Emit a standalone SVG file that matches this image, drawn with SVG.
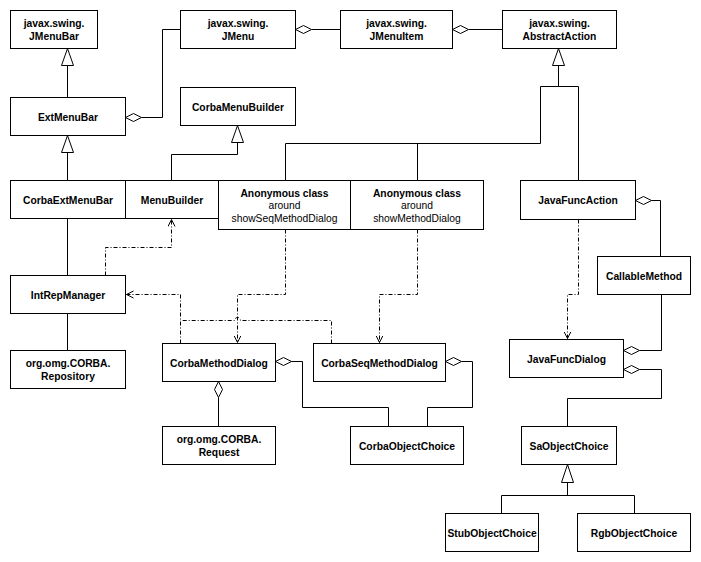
<svg xmlns="http://www.w3.org/2000/svg" width="701" height="562" viewBox="0 0 701 562">
<defs>
<style>
.box{fill:#fff;stroke:#000;stroke-width:1}
.t{font-family:"Liberation Sans",Arial,sans-serif;font-size:10.3px;font-weight:bold;text-anchor:middle;fill:#000}
.r{font-weight:normal}
.ln{fill:none;stroke:#000;stroke-width:1}
.dash{fill:none;stroke:#000;stroke-width:1;stroke-dasharray:4,2,1,2}
.tri{fill:#fff;stroke:#000;stroke-width:1}
.dia{fill:#fff;stroke:#000;stroke-width:1}
</style>
<marker id="open" markerWidth="10" markerHeight="10" refX="7" refY="4" orient="auto" markerUnits="userSpaceOnUse">
<path d="M0,0.5 L7,4 L0,7.5" fill="none" stroke="#000" stroke-width="1"/>
</marker>
</defs>
<rect width="701" height="562" fill="#fff"/>
<g transform="translate(0.5,0.5)">
<g id="connectors">
<!-- generalizations -->
<path class="ln" d="M67,97 V65"/>
<path class="tri" d="M67,48 L73,65 L61,65 Z"/>
<path class="ln" d="M67,180 V152"/>
<path class="tri" d="M67,135 L73,152 L61,152 Z"/>
<path class="ln" d="M558,65 V86 M540,86 H578 M540,86 V143 M578,86 V180 M285,143 H540 M285,143 V180 M417,143 V180"/>
<path class="tri" d="M558,48 L564,65 L552,65 Z"/>
<path class="ln" d="M171,180 V154 H237 V142"/>
<path class="tri" d="M237,125 L243,142 L231,142 Z"/>
<path class="ln" d="M567,482 V495 M501,495 H634 M501,495 V513 M634,495 V513"/>
<path class="tri" d="M567,464 L573,482 L561,482 Z"/>
<!-- aggregations -->
<path class="ln" d="M141,117 H162 V29 H180"/>
<path class="dia" d="M125,117 L133,113 L141,117 L133,121 Z"/>
<path class="ln" d="M311,29 H340"/>
<path class="dia" d="M295,29 L303,25 L311,29 L303,33 Z"/>
<path class="ln" d="M468,29 H502"/>
<path class="dia" d="M452,29 L460,25 L468,29 L460,33 Z"/>
<path class="ln" d="M218,397 V426"/>
<path class="dia" d="M218,381 L222,389 L218,397 L214,389 Z"/>
<path class="ln" d="M291,361 H302 V407 H388 V426"/>
<path class="dia" d="M275,361 L283,357 L291,361 L283,365 Z"/>
<path class="ln" d="M461,361 H472 V407 H427 V426"/>
<path class="dia" d="M445,361 L453,357 L461,361 L453,365 Z"/>
<path class="ln" d="M651,200 H660 V256"/>
<path class="dia" d="M635,200 L643,196 L651,200 L643,204 Z"/>
<path class="ln" d="M639,350 H661 V294"/>
<path class="dia" d="M623,350 L631,346 L639,350 L631,354 Z"/>
<path class="ln" d="M639,369 H661 V398 H567 V426"/>
<path class="dia" d="M623,369 L631,365 L639,369 L631,373 Z"/>
<!-- solid associations -->
<path class="ln" d="M67,218 V275"/>
<path class="ln" d="M67,313 V350"/>
<!-- dependencies -->
<path class="dash" d="M105,275 V247 H171 V219" marker-end="url(#open)"/>
<path class="dash" d="M180,343 V294 H126" marker-end="url(#open)"/>
<path class="dash" d="M331,343 V320 H240 A3,3 0 0 0 234,320 H180"/>
<path class="dash" d="M285,229 V294 H237 V342" marker-end="url(#open)"/>
<path class="dash" d="M417,229 V294 H379 V342" marker-end="url(#open)"/>
<path class="dash" d="M578,219 V294 H567 V338" marker-end="url(#open)"/>
</g>
<g id="JMenuBar"><rect class="box" x="10" y="10" width="87" height="38"/><text class="t" x="53.5" y="26">javax.swing.</text><text class="t" x="53.5" y="39">JMenuBar</text></g>
<g id="JMenu"><rect class="box" x="180" y="10" width="115" height="38"/><text class="t" x="237.5" y="26">javax.swing.</text><text class="t" x="237.5" y="39">JMenu</text></g>
<g id="JMenuItem"><rect class="box" x="340" y="10" width="112" height="38"/><text class="t" x="396" y="26">javax.swing.</text><text class="t" x="396" y="39">JMenuItem</text></g>
<g id="AbstractAction"><rect class="box" x="502" y="10" width="114" height="38"/><text class="t" x="559" y="26">javax.swing.</text><text class="t" x="559" y="39">AbstractAction</text></g>
<g id="ExtMenuBar"><rect class="box" x="10" y="97" width="115" height="38"/><text class="t" x="67.5" y="120">ExtMenuBar</text></g>
<g id="CorbaMenuBuilder"><rect class="box" x="180" y="87" width="115" height="38"/><text class="t" x="237.5" y="110">CorbaMenuBuilder</text></g>
<g id="CorbaExtMenuBar"><rect class="box" x="10" y="180" width="115" height="38"/><text class="t" x="67.5" y="203">CorbaExtMenuBar</text></g>
<g id="MenuBuilder"><rect class="box" x="125" y="180" width="93" height="38"/><text class="t" x="171.5" y="203">MenuBuilder</text></g>
<g id="AnonSeq"><rect class="box" x="218" y="180" width="132" height="49"/><text class="t" x="284" y="196">Anonymous class</text><text class="t r" x="284" y="208.5">around</text><text class="t r" x="284" y="221">showSeqMethodDialog</text></g>
<g id="AnonMethod"><rect class="box" x="350" y="180" width="133" height="49"/><text class="t" x="416.5" y="196">Anonymous class</text><text class="t r" x="416.5" y="208.5">around</text><text class="t r" x="416.5" y="221">showMethodDialog</text></g>
<g id="JavaFuncAction"><rect class="box" x="520" y="180" width="115" height="39"/><text class="t" x="577.5" y="203">JavaFuncAction</text></g>
<g id="CallableMethod"><rect class="box" x="597" y="256" width="93" height="38"/><text class="t" x="643.5" y="279">CallableMethod</text></g>
<g id="IntRepManager"><rect class="box" x="10" y="275" width="115" height="38"/><text class="t" x="67.5" y="298">IntRepManager</text></g>
<g id="Repository"><rect class="box" x="10" y="350" width="115" height="38"/><text class="t" x="67.5" y="366">org.omg.CORBA.</text><text class="t" x="67.5" y="379">Repository</text></g>
<g id="CorbaMethodDialog"><rect class="box" x="162" y="343" width="113" height="38"/><text class="t" x="218.5" y="366">CorbaMethodDialog</text></g>
<g id="CorbaSeqMethodDialog"><rect class="box" x="313" y="343" width="132" height="38"/><text class="t" x="379" y="366">CorbaSeqMethodDialog</text></g>
<g id="JavaFuncDialog"><rect class="box" x="509" y="339" width="114" height="38"/><text class="t" x="566" y="362">JavaFuncDialog</text></g>
<g id="Request"><rect class="box" x="162" y="426" width="113" height="38"/><text class="t" x="218.5" y="442">org.omg.CORBA.</text><text class="t" x="218.5" y="455">Request</text></g>
<g id="CorbaObjectChoice"><rect class="box" x="350" y="426" width="113" height="38"/><text class="t" x="406.5" y="449">CorbaObjectChoice</text></g>
<g id="SaObjectChoice"><rect class="box" x="521" y="426" width="95" height="38"/><text class="t" x="568.5" y="449">SaObjectChoice</text></g>
<g id="StubObjectChoice"><rect class="box" x="445" y="513" width="93" height="38"/><text class="t" x="491.5" y="536">StubObjectChoice</text></g>
<g id="RgbObjectChoice"><rect class="box" x="577" y="513" width="113" height="38"/><text class="t" x="633.5" y="536">RgbObjectChoice</text></g>
</g>
</svg>
